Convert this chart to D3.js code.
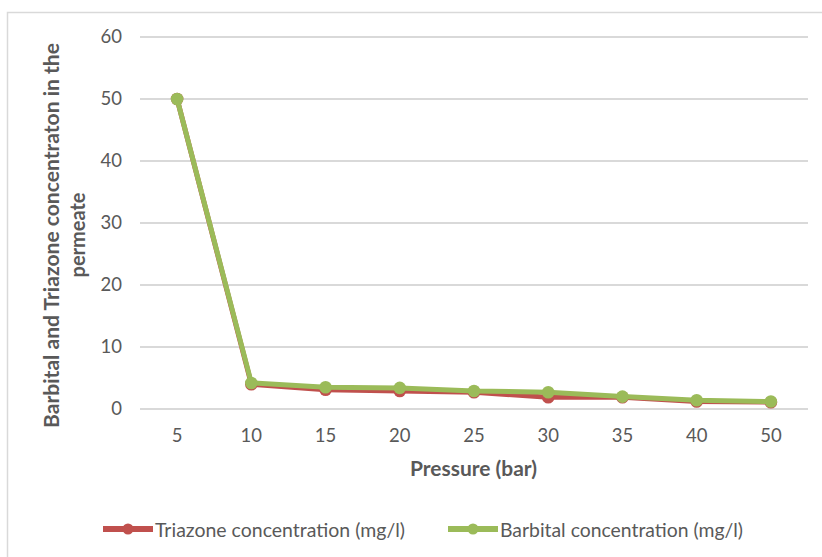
<!DOCTYPE html>
<html>
<head>
<meta charset="utf-8">
<script src="https://cdn.jsdelivr.net/npm/d3@7"></script>
<style>
  html, body { margin: 0; padding: 0; background: #fff; }
  svg text { font-family: "Lato", "Open Sans", sans-serif; fill: #595959; }
</style>
</head>
<body>
<svg id="chart" width="822" height="557"></svg>
<script>
// Pressure steps (bar) and permeate concentrations (mg/l)
const pressures = ["5", "10", "15", "20", "25", "30", "35", "40", "50"];
const triazone = [50, 4.0, 3.1, 2.9, 2.7, 1.9, 1.9, 1.2, 1.1];
const barbital = [50, 4.2, 3.5, 3.4, 2.9, 2.7, 2.0, 1.4, 1.2];
const yTicks = [0, 10, 20, 30, 40, 50, 60];
const seriesNames = ["Triazone concentration (mg/l)", "Barbital concentration (mg/l)"];
const seriesColors = ["#c0504d", "#9bbb59"];

const svg = d3.select("#chart");

// outer chart frame
svg.append("rect")
  .attr("x", 7.5).attr("y", 12.5)
  .attr("width", 840).attr("height", 600)
  .attr("fill", "none").attr("stroke", "#d9d9d9").attr("stroke-width", 1.5);

const plot = { left: 140, right: 808, top: 37, bottom: 409 };

const x = d3.scaleBand().domain(pressures).range([plot.left, plot.right]);
const y = d3.scaleLinear().domain([0, 60]).range([plot.bottom, plot.top]);

// horizontal gridlines
svg.append("g").selectAll("line").data(yTicks).join("line")
  .attr("x1", plot.left).attr("x2", plot.right)
  .attr("y1", d => y(d)).attr("y2", d => y(d))
  .attr("stroke", "#d9d9d9").attr("stroke-width", 2);

// y axis labels
const yAxis = svg.append("g")
  .attr("transform", `translate(${plot.left - 18},0)`)
  .call(d3.axisLeft(y).tickValues(yTicks).tickSize(0).tickPadding(0));
yAxis.select(".domain").remove();
yAxis.selectAll("text").style("font-size", "18.5px").attr("fill", "#595959");

// x axis labels
const xAxis = svg.append("g")
  .attr("transform", `translate(0,${plot.bottom + 20})`)
  .call(d3.axisBottom(x).tickSize(0).tickPadding(0));
xAxis.select(".domain").remove();
xAxis.selectAll("text").style("font-size", "18.5px").attr("fill", "#595959");

// axis titles
svg.append("text")
  .attr("x", 410).attr("y", 476)
  .attr("textLength", 127).attr("lengthAdjust", "spacingAndGlyphs")
  .style("font-size", "20px").style("font-weight", "bold")
  .text("Pressure (bar)");

const yTitle = svg.append("text")
  .attr("transform", "rotate(-90)")
  .style("font-size", "20px").style("font-weight", "bold");
yTitle.append("tspan")
  .attr("x", -428).attr("y", 59)
  .attr("textLength", 385).attr("lengthAdjust", "spacingAndGlyphs")
  .text("Barbital and Triazone concentraton in the");
svg.append("text")
  .attr("transform", "rotate(-90)")
  .attr("x", -235).attr("y", 85)
  .attr("text-anchor", "middle")
  .style("font-size", "20px").style("font-weight", "bold")
  .text("permeate");

// series lines with markers
const line = d3.line()
  .x((d, i) => x(pressures[i]) + x.bandwidth() / 2)
  .y(d => y(d));

[triazone, barbital].forEach((vals, k) => {
  const g = svg.append("g");
  g.append("path").datum(vals)
    .attr("d", line)
    .attr("fill", "none")
    .attr("stroke", seriesColors[k])
    .attr("stroke-width", 5)
    .attr("stroke-linejoin", "round");
  g.selectAll("circle").data(vals).join("circle")
    .attr("cx", (d, i) => x(pressures[i]) + x.bandwidth() / 2)
    .attr("cy", d => y(d))
    .attr("r", 6.3)
    .attr("fill", seriesColors[k]);
});

// legend
const legendItems = [
  { x0: 103, x1: 153, tx: 155, tw: 250 },
  { x0: 448, x1: 498, tx: 500, tw: 243 }
];
legendItems.forEach((it, k) => {
  const g = svg.append("g");
  g.append("line")
    .attr("x1", it.x0).attr("x2", it.x1)
    .attr("y1", 529).attr("y2", 529)
    .attr("stroke", seriesColors[k]).attr("stroke-width", 6);
  g.append("circle")
    .attr("cx", (it.x0 + it.x1) / 2).attr("cy", 529).attr("r", 5.5)
    .attr("fill", seriesColors[k]);
  g.append("text")
    .attr("x", it.tx).attr("y", 537)
    .attr("textLength", it.tw).attr("lengthAdjust", "spacingAndGlyphs")
    .style("font-size", "20px")
    .text(seriesNames[k]);
});
</script>
</body>
</html>
